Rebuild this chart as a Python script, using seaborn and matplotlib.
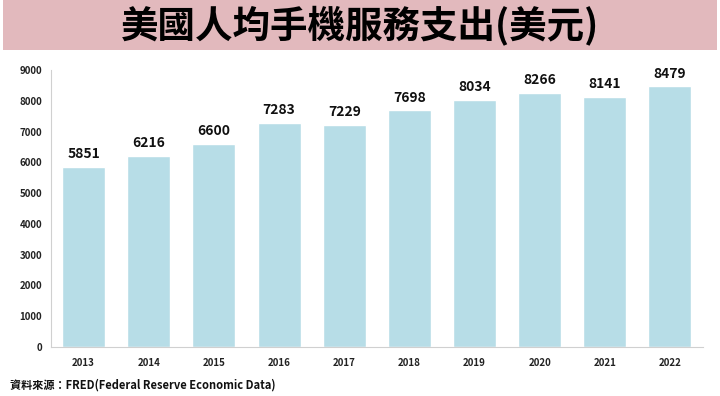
import pandas as pd
import matplotlib
matplotlib.use("Agg")
import matplotlib.pyplot as plt
import seaborn as sns
from matplotlib.patches import Rectangle

# -------------------- DATA --------------------
years = ["2013", "2014", "2015", "2016", "2017", "2018", "2019", "2020", "2021", "2022"]
spend = [5851, 6216, 6600, 7283, 7229, 7698, 8034, 8266, 8141, 8479]
y_ticks = [0, 1000, 2000, 3000, 4000, 5000, 6000, 7000, 8000, 9000]

title_text = "美國人均手機服務支出(美元)"
source_text = "資料來源：FRED(Federal Reserve Economic Data)"

# -------------------- STYLE --------------------
sns.set_style("white")
plt.rcParams["font.family"] = ["Noto Sans CJK TC", "DejaVu Sans"]

df = pd.DataFrame({"year": years, "spend": spend})

fig = plt.figure(figsize=(7.2, 3.96), dpi=100)
ax = fig.add_axes([0.0708, 0.1237, 0.905, 0.6993])

sns.barplot(data=df, x="year", y="spend", color="#b7dde7", width=0.66,
            saturation=1, ax=ax)

for i, v in enumerate(spend):
    ax.text(i, v + 180, str(v), ha="center", va="bottom",
            fontsize=10, fontweight="bold", color="#111111")

ax.set_xlim(-0.5, len(years) - 0.5)
ax.set_ylim(0, 9000)
ax.set_yticks(y_ticks)
ax.set_xlabel("")
ax.set_ylabel("")
ax.tick_params(axis="both", labelsize=7, colors="#222222", length=3, width=0.6)
ax.tick_params(axis="both", color="#cccccc")
for lbl in ax.get_xticklabels() + ax.get_yticklabels():
    lbl.set_fontweight("bold")
ax.xaxis.set_tick_params(pad=5)
sns.despine(ax=ax)
for s in ["left", "bottom"]:
    ax.spines[s].set_color("#d0d0d0")
    ax.spines[s].set_linewidth(0.8)

# title band
fig.patches.append(Rectangle((0.004, 0.875), 0.992, 0.125, transform=fig.transFigure,
                             facecolor="#e2b9bd", edgecolor="none", zorder=0))
fig.text(0.5, 0.935, title_text, ha="center", va="center",
         fontsize=27, fontweight="black", color="#000000")

fig.text(0.014, 0.027, source_text, ha="left", va="center",
         fontsize=8, fontweight="bold", color="#111111")

fig.savefig("out.png", dpi=100)
